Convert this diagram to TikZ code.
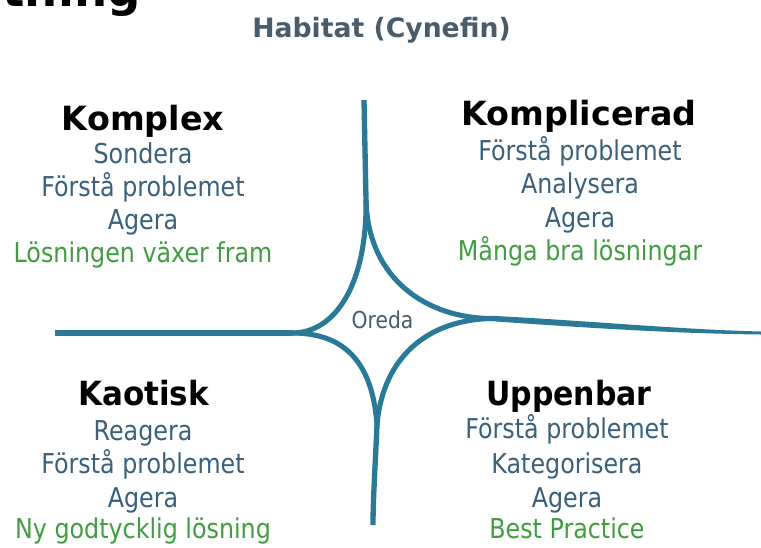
\documentclass[tikz,border=0pt]{standalone}
\usepackage{fontspec}
\setmainfont[FakeStretch=0.87]{DejaVu Sans}
\newfontfamily\headfont{DejaVu Sans}
\definecolor{linec}{RGB}{40,122,150}
\definecolor{bodyc}{RGB}{58,96,124}
\definecolor{greenc}{RGB}{64,158,64}
\definecolor{titlec}{RGB}{74,92,106}
\tikzset{
  head/.style={anchor=base, inner sep=0pt, text=black, font=\headfont\bfseries\fontsize{25}{25}\selectfont},
  body/.style={anchor=base, inner sep=0pt, text=bodyc, font=\fontsize{20.5}{20.5}\selectfont},
  sol/.style={body, text=greenc},
  axis/.style={draw=linec, line width=4pt},
  curve/.style={draw=linec, line width=3.8pt},
}
\begin{document}
\begin{tikzpicture}[x=0.75pt,y=-0.75pt]
\useasboundingbox (0,0) rectangle (761,547);
\fill[white] (0,0) rectangle (761,547);
% cut-off title
\node[anchor=base east, inner sep=0pt, font=\headfont\bfseries\fontsize{35}{35}\selectfont] (cut) at (141,6) {tning};
\node[anchor=base, inner sep=0pt, text=titlec, font=\headfont\bfseries\fontsize{20}{20}\selectfont] (title) at (381.5,37) {Habitat (Cynefin)};
% cusps
\coordinate (top) at (364,100);
\coordinate (tc) at (366,200);
\coordinate (lc) at (292,333);
\coordinate (rc) at (492,318.5);
\coordinate (bc) at (377,425);
\coordinate (left) at (55,333);
\coordinate (bottom) at (373,525);
\coordinate (right) at (761,333);
\draw[axis] (top) -- (tc);
\draw[axis] (left) -- (lc);
\draw[axis] (bc) .. controls (375,470) and (373,500) .. (bottom);
\draw[curve] (tc) .. controls (367,285) and (335,333) .. (lc);
\draw[curve] (tc) .. controls (368,280) and (428,318.5) .. (rc);
\draw[curve] (lc) .. controls (338,333) and (372,355) .. (bc);
\draw[curve] (rc) .. controls (430,319.5) and (383,355) .. (bc);
\fill[linec] (492,315.8) .. controls (600,321.5) and (680,329.5) .. (761,331.5)
  -- (761,334.5) .. controls (680,333.5) and (600,328.8) .. (492,321.2) -- cycle;
\node[anchor=base, inner sep=0pt, text=titlec, font=\fontsize{17.5}{17.5}\selectfont] (oreda) at (382.5,328) {Oreda};
% Komplex
\node[head] (h1) at (143,130) {Komplex};
\node[body] (a1) at (143,163) {Sondera};
\node[body] (b1) at (143,196) {Förstå problemet};
\node[body] (c1) at (143,229) {Agera};
\node[sol]  (d1) at (143,262) {Lösningen växer fram};
% Komplicerad
\node[head] (h2) at (579,125) {Komplicerad};
\node[body] (a2) at (580,160) {Förstå problemet};
\node[body] (b2) at (580,193) {Analysera};
\node[body] (c2) at (580,227) {Agera};
\node[sol]  (d2) at (580,260) {Många bra lösningar};
% Kaotisk
\node[head] (h3) at (143.5,405) {\scalebox{0.93}[1]{Kaotisk}};
\node[body] (a3) at (143,440) {Reagera};
\node[body] (b3) at (143,473) {Förstå problemet};
\node[body] (c3) at (143,507) {Agera};
\node[sol]  (d3) at (143,538) {Ny godtycklig lösning};
% Uppenbar
\node[head] (h4) at (569,405) {\scalebox{0.9}[1]{Uppenbar}};
\node[body] (a4) at (567,438) {Förstå problemet};
\node[body] (b4) at (567,473) {Kategorisera};
\node[body] (c4) at (567,507) {Agera};
\node[sol]  (d4) at (567,538) {Best Practice};
\end{tikzpicture}
\end{document}
